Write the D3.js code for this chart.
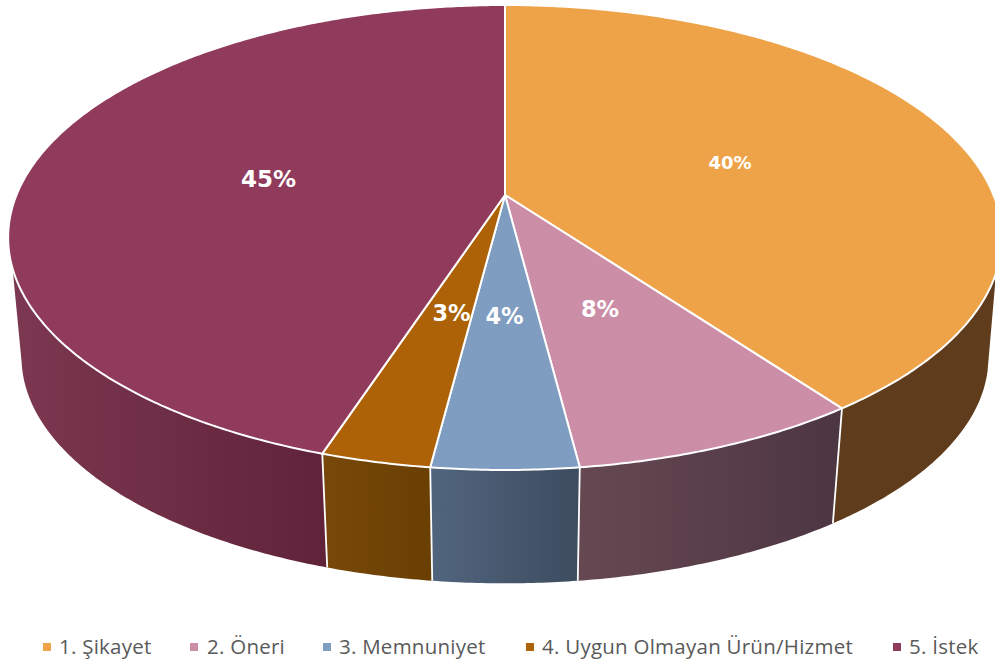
<!DOCTYPE html>
<html><head><meta charset="utf-8">
<script src="https://cdn.jsdelivr.net/npm/d3@7"></script>
<style>html,body{margin:0;padding:0;background:#fff;overflow:hidden}svg{display:block}</style>
</head><body><svg id="c" width="995" height="667"></svg>
<script>
const categories = ["1. Şikayet","2. Öneri","3. Memnuniyet","4. Uygun Olmayan Ürün/Hizmet","5. İstek"];
const values = [40,8,4,3,45];
const labels = ["40%","8%","4%","3%","45%"];
const topColors = ["#EFA348","#CC8DA7","#7F9CC1","#AE6207","#913B5C"];
const wallLeft  = ["#5F3D1C","#664852","#51657E","#774809","#7C3850"];
const wallRight = ["#5F3D1C","#4C3642","#3D4C5F","#6A3F03","#5F2339"];

// layout
const labelPos = [[730,163,18],[600,309,22.5],[504.5,316,22.5],[451.5,313,22.5],[268.5,179,23]];
const legendSwatchX = [43,190,323,526,893];
const legendTextX = [59,207,339,542,909];

// perspective projection of the unit disc
const cx=505, cy=195, R=488.5, S=224.7, k=-0.1828;
const depthScale=0.973, depthShift=120.8;
const toRad=Math.PI/180;
function project(a){ // a: radians, clockwise from top
  const u=Math.sin(a), v=-Math.cos(a), w=1+k*v;
  return [R*u/w, S*v/w];
}
const topP=a=>{const p=project(a);return [cx+p[0],cy+p[1]];};
const botP=a=>{const p=project(a);return [cx+depthScale*p[0],cy+depthShift+depthScale*p[1]];};
const line=d3.line();
const arcAngles=(a,b)=>{const n=Math.max(2,Math.ceil(Math.abs(b-a)/(0.5*toRad)));return d3.range(n+1).map(i=>a+(b-a)*i/n);};

const svg=d3.select("#c");
const defs=svg.append("defs");
const pie=d3.pie().sort(null).value(d=>d);
const arcs=pie(values);

// silhouette tangents of the side wall
const rightTop=109*toRad, rightBot=104*toRad, leftTop=252*toRad, leftBot=258*toRad;

const walls=arcs.map((d,i)=>{
  const t0=Math.max(d.startAngle,rightTop), t1=Math.min(d.endAngle,leftTop);
  const b0=Math.max(d.startAngle,rightBot), b1=Math.min(d.endAngle,leftBot);
  const pts=[...arcAngles(t0,t1).map(topP),...arcAngles(b1,b0).map(botP)];
  return {i,pts,xs:pts.map(p=>p[0]),d};
});
walls.forEach(w=>{
  const g=defs.append("linearGradient").attr("id","w"+w.i).attr("gradientUnits","userSpaceOnUse")
    .attr("x1",d3.max(w.xs)).attr("x2",d3.min(w.xs)).attr("y1",0).attr("y2",0);
  g.append("stop").attr("offset",0).attr("stop-color",wallRight[w.i]);
  g.append("stop").attr("offset",1).attr("stop-color",wallLeft[w.i]);
});
svg.append("g").selectAll("path").data(walls).join("path")
  .attr("d",w=>line(w.pts)+"Z").attr("fill",w=>`url(#w${w.i})`);
// vertical separators on the wall
svg.append("g").selectAll("line").data(arcs.slice(0,-1)).join("line")
  .attr("x1",d=>topP(d.endAngle)[0]).attr("y1",d=>topP(d.endAngle)[1])
  .attr("x2",d=>botP(d.endAngle)[0]).attr("y2",d=>botP(d.endAngle)[1])
  .attr("stroke","#fff").attr("stroke-width",1.8);

// top face
svg.append("g").selectAll("path").data(arcs).join("path")
  .attr("d",d=>line([[cx,cy],...arcAngles(d.startAngle,d.endAngle).map(topP)])+"Z")
  .attr("fill",(d,i)=>topColors[i]).attr("stroke","#fff").attr("stroke-width",2).attr("stroke-linejoin","round");

// data labels
svg.append("g").selectAll("text").data(labels).join("text")
  .attr("x",(d,i)=>labelPos[i][0]).attr("y",(d,i)=>labelPos[i][1]+labelPos[i][2]*0.36)
  .attr("text-anchor","middle").attr("fill","#fff")
  .attr("font-family","'DejaVu Sans'").attr("font-weight","bold")
  .attr("font-size",(d,i)=>labelPos[i][2]).text(d=>d);

// legend
const lg=svg.append("g");
lg.selectAll("rect").data(categories).join("rect")
  .attr("x",(d,i)=>legendSwatchX[i]).attr("y",643).attr("width",8).attr("height",8)
  .attr("fill",(d,i)=>topColors[i]);
lg.selectAll("text").data(categories).join("text")
  .attr("x",(d,i)=>legendTextX[i]).attr("y",654)
  .attr("fill","#595959").attr("font-family","'Open Sans'").attr("font-size",20.5)
  .attr("letter-spacing",0.25)
  .text(d=>d);
</script></body></html>
